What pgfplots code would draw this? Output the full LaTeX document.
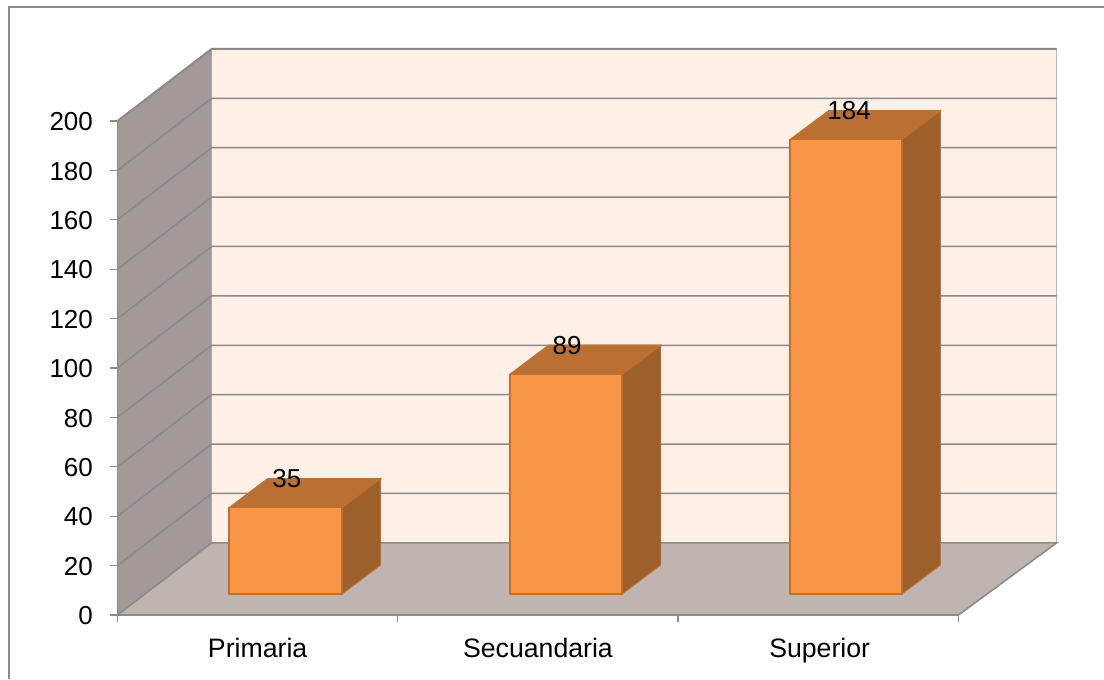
\documentclass[border=0pt]{standalone}
\usepackage{pgfplots}
\pgfplotsset{compat=1.18}
\usepackage{fontspec}
\setmainfont{Liberation Sans}
\definecolor{wall}{HTML}{FEEFE7}
\definecolor{side}{HTML}{A19A96}
\definecolor{floorc}{HTML}{BFB5B0}
\definecolor{gridc}{HTML}{8A8A8A}
\definecolor{edgec}{HTML}{BBB3AE}
\definecolor{front}{HTML}{F99646}
\definecolor{topc}{HTML}{BB7033}
\definecolor{sidec}{HTML}{9D602B}
\definecolor{baredge}{HTML}{BE7030}
\begin{document}
\begin{tikzpicture}[x=1pt,y=1pt]
\useasboundingbox (0,0) rectangle (828,509.25);
\begin{axis}[
  at={(88.1pt,48pt)}, anchor=origin,
  scale only axis, width=630.75pt, height=370.5pt,
  xmin=0, xmax=3, ymin=0, ymax=200,
  clip=false, axis on top=true,
  axis x line*=bottom, axis y line*=left,
  axis line style={-, draw=gridc, line width=1.4pt},
  tick style={draw=gridc, line width=1pt},
  tick align=outside, major tick length=5.5pt,
  xtick={0,1,2,3}, xticklabels={},
  extra x ticks={0.5,1.5,2.505},
  extra x tick labels={Primaria,Secuandaria,Superior},
  extra x tick style={major tick length=0pt, xticklabel style={yshift=-13.5pt, font=\fontsize{20}{23}\selectfont}},
  ytick={0,20,...,200},
  /pgf/number format/assume math mode=true,
  tick label style={font=\fontsize{19.5}{22}\selectfont, text=black},
  yticklabel style={xshift=-9.4pt, yshift=-0.6pt},
]
% walls and floor
\addplot[fill=wall, draw=edgec, line width=0.8pt] coordinates {(0.336,29.2) (3.35,29.2) (3.35,229.2) (0.336,229.2)} -- cycle;
\addplot[fill=side, draw=none] coordinates {(0,0) (0.336,29.2) (0.336,229.2) (0,200)} -- cycle;
\addplot[fill=floorc, draw=none] coordinates {(0,0) (3,0) (3.35,29.2) (0.336,29.2)} -- cycle;
% gridlines on the side wall and back wall
\addplot[gridc, line width=1.1pt] coordinates {(0,20) (0.336,49.2) (3.35,49.2)};
\addplot[gridc, line width=1.1pt] coordinates {(0,40) (0.336,69.2) (3.35,69.2)};
\addplot[gridc, line width=1.1pt] coordinates {(0,60) (0.336,89.2) (3.35,89.2)};
\addplot[gridc, line width=1.1pt] coordinates {(0,80) (0.336,109.2) (3.35,109.2)};
\addplot[gridc, line width=1.1pt] coordinates {(0,100) (0.336,129.2) (3.35,129.2)};
\addplot[gridc, line width=1.1pt] coordinates {(0,120) (0.336,149.2) (3.35,149.2)};
\addplot[gridc, line width=1.1pt] coordinates {(0,140) (0.336,169.2) (3.35,169.2)};
\addplot[gridc, line width=1.1pt] coordinates {(0,160) (0.336,189.2) (3.35,189.2)};
\addplot[gridc, line width=1.1pt] coordinates {(0,180) (0.336,209.2) (3.35,209.2)};
\addplot[gridc, line width=1.5pt] coordinates {(0,200) (0.336,229.2) (3.35,229.2)};
\addplot[gridc, line width=1.2pt] coordinates {(0,0) (0.336,29.2) (3.35,29.2) (3,0)};
% outer frame
\addplot[gridc, line width=1pt] coordinates {(-0.387,-26) (-0.387,246.2) (3.52,246.2)};
% bars
\addplot[fill=sidec, draw=baredge, line width=0.7pt] coordinates {(0.801,8.5) (0.939,20.24) (0.939,55.24) (0.801,43.5)} -- cycle;
\addplot[fill=topc, draw=baredge, line width=0.7pt] coordinates {(0.398,43.5) (0.801,43.5) (0.939,55.24) (0.536,55.24)} -- cycle;
\addplot[fill=front, draw=baredge, line width=1pt] coordinates {(0.398,8.5) (0.801,8.5) (0.801,43.5) (0.398,43.5)} -- cycle;
\addplot[fill=sidec, draw=baredge, line width=0.7pt] coordinates {(1.800,8.5) (1.938,20.24) (1.938,109.24) (1.800,97.5)} -- cycle;
\addplot[fill=topc, draw=baredge, line width=0.7pt] coordinates {(1.400,97.5) (1.800,97.5) (1.938,109.24) (1.538,109.24)} -- cycle;
\addplot[fill=front, draw=baredge, line width=1pt] coordinates {(1.400,8.5) (1.800,8.5) (1.800,97.5) (1.400,97.5)} -- cycle;
\addplot[fill=sidec, draw=baredge, line width=0.7pt] coordinates {(2.798,8.5) (2.936,20.24) (2.936,204.24) (2.798,192.5)} -- cycle;
\addplot[fill=topc, draw=baredge, line width=0.7pt] coordinates {(2.399,192.5) (2.798,192.5) (2.936,204.24) (2.537,204.24)} -- cycle;
\addplot[fill=front, draw=baredge, line width=1pt] coordinates {(2.399,8.5) (2.798,8.5) (2.798,192.5) (2.399,192.5)} -- cycle;
% value labels
\addplot[draw=none, point meta=explicit symbolic,
  nodes near coords, nodes near coords align={center},
  every node near coord/.style={font=\fontsize{19.5}{22}\selectfont, text=black, anchor=center, inner sep=0pt}]
  coordinates {(0.604,55.24)[35] (1.604,109.24)[89] (2.610,204.24)[184]};
\end{axis}
\end{tikzpicture}
\end{document}
